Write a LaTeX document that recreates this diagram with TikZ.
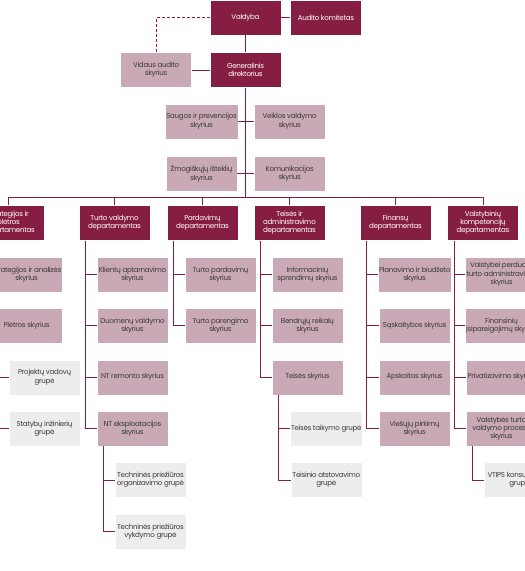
\documentclass[tikz,border=0pt]{standalone}
\usepackage{fontspec}
\setmainfont{Poppins}[LetterSpace=-4]
\usetikzlibrary{positioning}

\definecolor{wine}{HTML}{861D42}
\definecolor{rose}{HTML}{C9A9B5}
\definecolor{mist}{HTML}{EDEDED}
\definecolor{ink}{HTML}{3A3A3A}

\begin{document}
\begin{tikzpicture}[
    x=1pt, y=-1pt,
    font=\fontsize{7.1}{8.2}\selectfont,
    node distance=16pt and 18pt,
    %% box styles
    board/.style={
        fill=wine, text=white, draw=white, line width=0.4pt,
        minimum width=71pt, minimum height=35pt,
        inner sep=1pt, align=center
    },
    unit/.style={
        fill=rose, text=ink, draw=white, line width=0.4pt,
        minimum width=71pt, minimum height=35pt,
        inner sep=1pt, align=center
    },
    team/.style={
        fill=mist, text=ink, draw=white, line width=0.4pt,
        minimum width=71pt, minimum height=35pt,
        inner sep=1pt, align=center
    },
    %% line styles
    link/.style={draw=wine, line width=0.8pt},
    linkdash/.style={link, dash pattern=on 3pt off 2pt}
]

    %% --- frame ------------------------------------------------
    \useasboundingbox (0,0) rectangle (525,571);
    \clip (0,0) rectangle (525,571);

    %% --- top management ---------------------------------------
    \node[board] (valdyba) at (245.5,17.5) {Valdyba};
    \node[board] (audit)   [right=9pt of valdyba] {Audito komitetas};
    \node[board] (gd)      [below=17pt of valdyba] {Generalinis\\direktorius};
    \node[unit]  (vidaus)  [left=18pt of gd] {Vidaus audito\\skyrius};

    \node[unit] (saugos) [below left=16pt and 7.5pt of gd.south] {Saugos ir prevencijos\\skyrius};
    \node[unit] (veikla) [right=16pt of saugos] {Veiklos valdymo\\skyrius};
    \node[unit] (zmog)   [below=17pt of saugos] {Žmogiškųjų išteklių\\skyrius};
    \node[unit] (komun)  [below=17pt of veikla] {Komunikacijos\\skyrius};

    \coordinate (bus) at (245.5,197);

    %% --- departments ------------------------------------------
    \node[board] (strat)  at (8.5,223)   {Strategijos ir\\plėtros\\departamentas};
    \node[board] (turtas) at (114.5,223) {Turto valdymo\\departamentas};
    \node[board] (pard)   at (202.5,223) {Pardavimų\\departamentas};
    \node[board] (teise)  at (289.5,223) {Teisės ir\\administravimo\\departamentas};
    \node[board] (fin)    at (395.5,223) {Finansų\\departamentas};
    \node[board] (valst)  at (483,223)   {Valstybinių\\kompetencijų\\departamentas};

    %% --- Strategijos ir plėtros -------------------------------
    \node[unit] (st1) [below right=16pt and 18pt of strat.south west] {Strategijos ir analizės\\skyrius};
    \node[unit] (st2) [below=16pt of st1] {Plėtros skyrius};
    \node[team] (stg1) [below right=16pt and 18pt of st2.south west] {Projektų vadovų\\grupė};
    \node[team] (stg2) [below=16pt of stg1] {Statybų inžinierių\\grupė};

    %% --- Turto valdymo ----------------------------------------
    \node[unit] (tv1) [below right=16pt and 18pt of turtas.south west] {Klientų aptarnavimo\\skyrius};
    \node[unit] (tv2) [below=16pt of tv1] {Duomenų valdymo\\skyrius};
    \node[unit] (tv3) [below=16pt of tv2] {NT remonto skyrius};
    \node[unit] (tv4) [below=16pt of tv3] {NT eksploatacijos\\skyrius};
    \node[team] (tvg1) [below right=16pt and 18pt of tv4.south west] {Techninės priežiūros\\organizavimo grupė};
    \node[team] (tvg2) [below=16pt of tvg1] {Techninės priežiūros\\vykdymo grupė};

    %% --- Pardavimų --------------------------------------------
    \node[unit] (pd1) [below right=16pt and 18pt of pard.south west] {Turto pardavimų\\skyrius};
    \node[unit] (pd2) [below=16pt of pd1] {Turto parengimo\\skyrius};

    %% --- Teisės ir administravimo -----------------------------
    \node[unit] (ta1) [below right=16pt and 18pt of teise.south west] {Informacinių\\sprendimų skyrius};
    \node[unit] (ta2) [below=16pt of ta1] {Bendrųjų reikalų\\skyrius};
    \node[unit] (ta3) [below=16pt of ta2] {Teisės skyrius};
    \node[team] (tag1) [below right=16pt and 18pt of ta3.south west] {Teisės taikymo grupė};
    \node[team] (tag2) [below=16pt of tag1] {Teisinio atstovavimo\\grupė};

    %% --- Finansų ----------------------------------------------
    \node[unit] (fn1) [below right=16pt and 18pt of fin.south west] {Planavimo ir biudžeto\\skyrius};
    \node[unit] (fn2) [below=16pt of fn1] {Sąskaitybos skyrius};
    \node[unit] (fn3) [below=16pt of fn2] {Apskaitos skyrius};
    \node[unit] (fn4) [below=16pt of fn3] {Viešųjų pirkimų\\skyrius};

    %% --- Valstybinių kompetencijų -----------------------------
    \node[unit] (vk1) [below right=16pt and 18pt of valst.south west] {Valstybei perduoto\\turto administravimo\\skyrius};
    \node[unit] (vk2) [below=16pt of vk1] {Finansinių\\įsipareigojimų skyrius};
    \node[unit] (vk3) [below=16pt of vk2] {Privatizavimo skyrius};
    \node[unit] (vk4) [below=16pt of vk3] {Valstybės turto\\valdymo procesų\\skyrius};
    \node[team] (vkg1) [below right=16pt and 18pt of vk4.south west] {VTIPS konsultavimo\\grupė};

    %% --- connectors: top --------------------------------------
    \draw[link] (valdyba) -- (audit);
    \draw[link] (valdyba) -- (gd);
    \draw[link] (vidaus) -- (gd);
    \draw[linkdash] (valdyba.west) -| (vidaus.north);
    \draw[link] (gd) -- (bus);
    \draw[link] (saugos) -- (veikla);
    \draw[link] (zmog) -- (komun);

    %% --- connectors: bus to departments -----------------------
    \foreach \d in {strat, turtas, pard, teise, fin, valst}
        \draw[link] (\d.north) |- (bus);

    %% --- connectors: departments to units ---------------------
    \foreach \p/\s in {strat/st1, strat/st2, st2/stg1, st2/stg2,
                      turtas/tv1, turtas/tv2, turtas/tv3, turtas/tv4, tv4/tvg1, tv4/tvg2,
                      pard/pd1, pard/pd2,
                      teise/ta1, teise/ta2, teise/ta3, ta3/tag1, ta3/tag2,
                      fin/fn1, fin/fn2, fin/fn3, fin/fn4,
                      valst/vk1, valst/vk2, valst/vk3, valst/vk4, vk4/vkg1}
        \draw[link] ([xshift=7pt]\p.south west) |- (\s.west);

\end{tikzpicture}
\end{document}
